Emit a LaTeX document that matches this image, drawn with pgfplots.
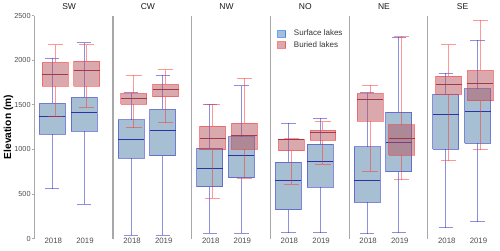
\documentclass[border=0pt]{standalone}
\usepackage{fontspec}
\setmainfont{Liberation Sans}
\usepackage{pgfplots}
\pgfplotsset{compat=1.18}
\definecolor{bluefill}{HTML}{5080A8}
\definecolor{blueline}{HTML}{2020C0}
\definecolor{bluemed}{HTML}{2A2AA0}
\definecolor{redfill}{HTML}{B3535D}
\definecolor{redline}{HTML}{FF3030}
\definecolor{redmed}{HTML}{A03545}
\definecolor{axgray}{HTML}{A8A8A8}
\definecolor{txtgray}{HTML}{4D4D4D}
\pgfplotsset{
  bbox/.style={forget plot, draw=blueline, draw opacity=0.5, fill=bluefill, fill opacity=0.5, line width=1pt},
  bwh/.style={forget plot, draw=blueline, draw opacity=0.5, line width=1pt},
  bmed/.style={forget plot, draw=bluemed, draw opacity=0.95, line width=1pt},
  rbox/.style={forget plot, draw=redline, draw opacity=0.5, fill=redfill, fill opacity=0.5, line width=1pt},
  rwh/.style={forget plot, draw=redline, draw opacity=0.5, line width=1pt},
  rmed/.style={forget plot, draw=redmed, draw opacity=0.95, line width=1pt},
  panel/.style={
    scale only axis, width=69.7pt, height=223pt,
    xmin=0.4, xmax=2.6, ymin=0, ymax=2500,
    axis x line*=bottom, axis y line*=left,
    x axis line style={draw=none},
    y axis line style={draw=axgray, line width=1.1pt},
    xtick={1,2}, xticklabels={2018,2019},
    xtick style={draw=none},
    xticklabel style={font=\fontsize{7.8}{8.5}\selectfont, text=txtgray, inner sep=1pt, yshift=1.5pt},
    ytick=\empty,
    title style={at={(0.5,1)}, anchor=base, yshift=0.3pt, font=\fontsize{8.5}{9.5}\selectfont, text=black!90},
    clip=false,
  },
}
\newcommand{\setpos}[5]{\def\pL{#1}\def\pC{#2}\def\pR{#3}\def\cL{#4}\def\cR{#5}}
% #1 style prefix, #2 lower whisker, #3 lower quartile, #4 median, #5 upper quartile, #6 upper whisker
\newcommand{\onebox}[6]{%
  \addplot[#1box] coordinates {(\pL,#3) (\pR,#3) (\pR,#5) (\pL,#5) (\pL,#3)};
  \addplot[#1wh] coordinates {(\pC,#5) (\pC,#6)};
  \addplot[#1wh] coordinates {(\pC,#2) (\pC,#3)};
  \addplot[#1wh] coordinates {(\cL,#6) (\cR,#6)};
  \addplot[#1wh] coordinates {(\cL,#2) (\cR,#2)};
  \addplot[#1med] coordinates {(\pL,#4) (\pR,#4)};
}
\newcommand{\bA}[5]{\setpos{0.56}{0.97}{1.38}{0.745}{1.195}\onebox{b}{#1}{#2}{#3}{#4}{#5}}
\newcommand{\bB}[5]{\setpos{1.56}{1.97}{2.38}{1.745}{2.195}\onebox{b}{#1}{#2}{#3}{#4}{#5}}
\newcommand{\rA}[5]{\setpos{0.65}{1.06}{1.47}{0.82}{1.30}\onebox{r}{#1}{#2}{#3}{#4}{#5}}
\newcommand{\rB}[5]{\setpos{1.65}{2.06}{2.47}{1.82}{2.30}\onebox{r}{#1}{#2}{#3}{#4}{#5}}
\begin{document}
\begin{tikzpicture}
\path (-34.3pt,-11.7pt) rectangle (465.7pt,234.3pt);
% SW
\begin{axis}[panel, at={(0pt,0pt)}, anchor=south west, title={SW},
  ytick={0,500,1000,1500,2000,2500}, yticklabels={0,500,1000,1500,2000,2500},
  ytick style={draw=axgray, line width=0.8pt}, tick align=outside, major tick length=2.5pt,
  xticklabel style={yshift=2.5pt},
  yticklabel style={font=\fontsize{7.3}{8}\selectfont, text=txtgray, inner sep=1pt},
  ylabel={Elevation (m)},
  ylabel style={at={(axis description cs:-0.37,0.5)}, anchor=center, font=\fontsize{10.2}{11}\selectfont\bfseries}]
\bA{557}{1171}{1373}{1515}{2023}
\rA{1365}{1709}{1836}{1975}{2173}
\bB{385}{1204}{1410}{1582}{2196}
\rB{1470}{1709}{1881}{1990}{2173}
\end{axis}
% CW
\begin{axis}[panel, at={(78.7pt,0pt)}, anchor=south west, title={CW}]
\bA{37}{901}{1107}{1331}{1634}
\rA{1241}{1504}{1575}{1627}{1829}
\bB{37}{927}{1208}{1448}{1833}
\rB{1297}{1589}{1668}{1728}{1892}
\end{axis}
% NW
\begin{axis}[panel, at={(157.4pt,0pt)}, anchor=south west, title={NW}]
\bA{59}{579}{789}{1013}{1507}
\rA{452}{994}{1118}{1260}{1507}
\bB{59}{680}{927}{1140}{1713}
\rB{677}{999}{1159}{1294}{1799}
\end{axis}
% NO
\begin{axis}[panel, at={(236.1pt,0pt)}, anchor=south west, title={NO},
  legend style={at={(axis description cs:0.096,0.935)}, anchor=north west, draw=none, fill=none,
    inner sep=0pt, outer sep=0pt, row sep=3.8pt,
    font=\fontsize{8}{9}\selectfont, text=black!80,
    nodes={inner sep=0pt},
    /tikz/every odd column/.append style={column sep=8pt}},
  legend cell align=left]
\bA{67}{321}{654}{856}{1291}
\rA{609}{983}{1110}{1114}{1118}
\bB{67}{576}{864}{1058}{1347}
\rB{834}{1100}{1185}{1215}{1309}
\addlegendimage{legend image code/.code={\draw[draw=blue!60!cyan, draw opacity=0.6, fill=bluefill, fill opacity=0.5, line width=0.9pt] (0pt,-3.3pt) rectangle (8pt,3.3pt);}}
\addlegendentry{Surface lakes}
\addlegendimage{legend image code/.code={\draw[draw=redline, draw opacity=0.6, fill=redfill, fill opacity=0.5, line width=0.9pt] (0pt,-3.3pt) rectangle (8pt,3.3pt);}}
\addlegendentry{Buried lakes}
\end{axis}
% NE
\begin{axis}[panel, at={(314.8pt,0pt)}, anchor=south west, title={NE}]
\bA{52}{407}{651}{1028}{1634}
\rA{755}{1316}{1563}{1627}{1717}
\bB{63}{747}{1073}{1418}{2259}
\rB{658}{935}{1122}{1275}{2270}
\end{axis}
% SE
\begin{axis}[panel, at={(393.5pt,0pt)}, anchor=south west, title={SE}]
\bA{123}{999}{1387}{1616}{1855}
\rA{875}{1616}{1732}{1822}{2173}
\bB{186}{1066}{1429}{1679}{2222}
\rB{994}{1544}{1743}{1886}{2447}
\end{axis}
\end{tikzpicture}
\end{document}
